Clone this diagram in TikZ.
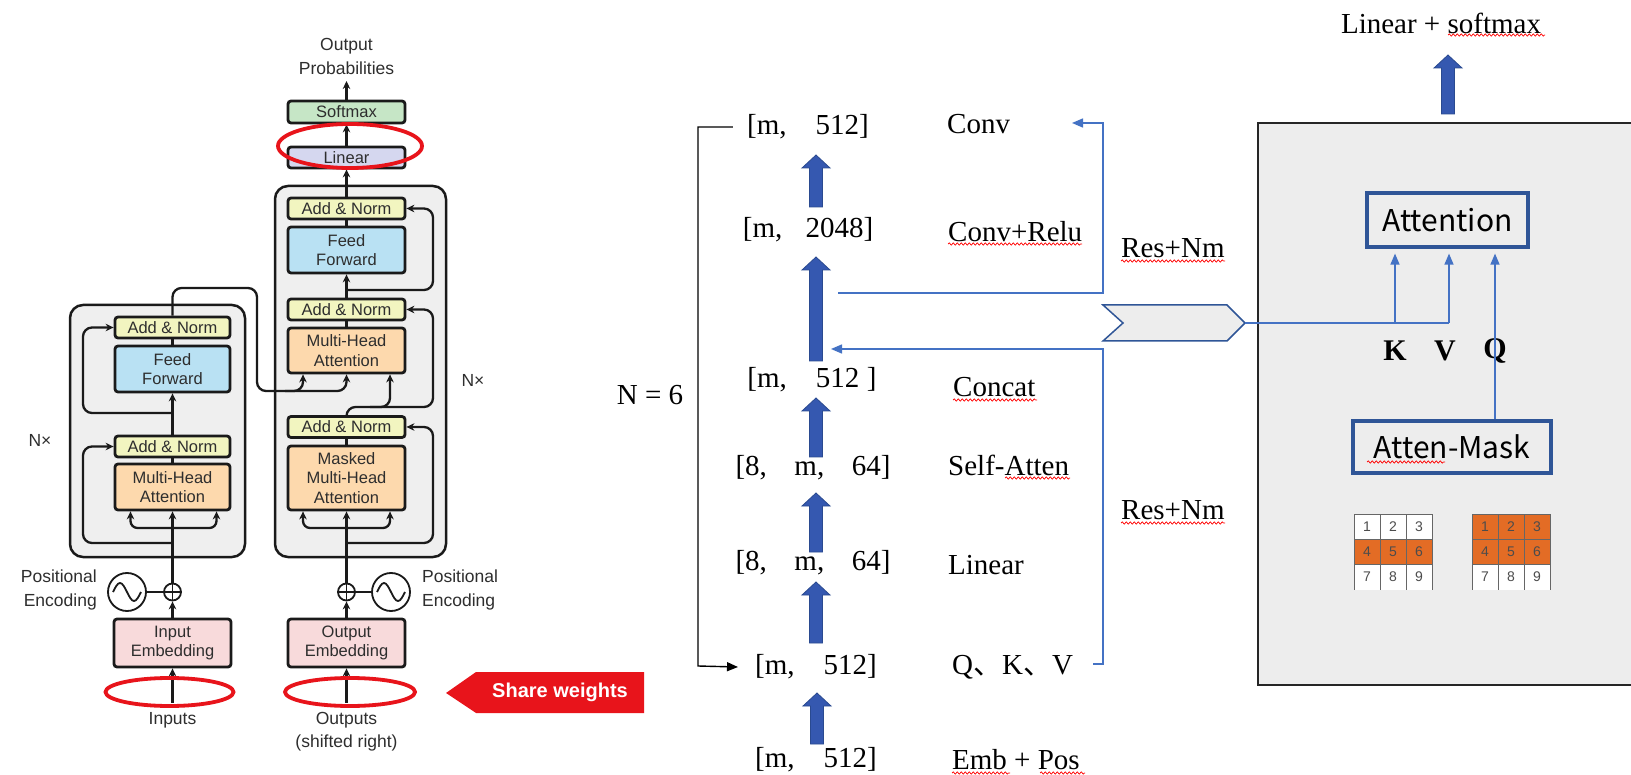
\documentclass[tikz,border=0pt]{standalone}
\usepackage{fontspec}
\setmainfont{Liberation Serif}
\newfontfamily\lsans{Liberation Sans}
\newfontfamily\cjk{Noto Sans CJK SC}
\usetikzlibrary{arrows.meta,decorations.pathmorphing,calc}
\definecolor{blk}{HTML}{1A1A1A}
\definecolor{txtg}{HTML}{2E2E2E}
\definecolor{anf}{HTML}{F2F5C0}
\definecolor{fff}{HTML}{B9E1F3}
\definecolor{mhf}{HTML}{FDD9AD}
\definecolor{smf}{HTML}{C6E6C6}
\definecolor{lnf}{HTML}{D5D7EF}
\definecolor{emf}{HTML}{F8DADB}
\definecolor{outf}{HTML}{EFEFEF}
\definecolor{redc}{HTML}{E8141B}
\definecolor{fatb}{HTML}{3558B0}
\definecolor{fatd}{HTML}{2A4A90}
\definecolor{thinb}{HTML}{4472C4}
\definecolor{boxb}{HTML}{2F5597}
\definecolor{graybg}{HTML}{EDEDED}
\definecolor{orng}{HTML}{E36C25}
\newcommand\fatup[3]{%
  \filldraw[fill=fatb, draw=fatd, line width=0.8pt]
   (#1-6.5,#3) -- (#1-6.5,#2+13) -- (#1-14,#2+13) -- (#1,#2) -- (#1+14,#2+13) -- (#1+6.5,#2+13) -- (#1+6.5,#3) -- cycle;}
\begin{document}
\begin{tikzpicture}[x=1pt,y=-1pt,
  lbox/.style={draw=blk, line width=2.8pt, rounded corners=3pt, minimum width=117pt, inner sep=0pt, align=center, text=txtg, font=\lsans\fontsize{16.5}{19.5}\selectfont},
  outer/.style={draw=blk, line width=2.5pt, rounded corners=13pt, fill=outf, inner sep=0pt},
  ltxt/.style={text=txtg, inner sep=0pt, font=\lsans\fontsize{17.5}{24}\selectfont},
  larr/.style={draw=blk, line width=2.3pt, -{Stealth[length=8pt, width=7.5pt]}},
  lline/.style={draw=blk, line width=2.3pt},
  redell/.style={draw=redc, line width=3.8pt},
  mid/.style={inner sep=0pt, font=\fontsize{29}{34}\selectfont},
  barr/.style={draw=black, line width=1.4pt, -{Triangle[length=11pt, width=9pt]}},
  tb/.style={draw=thinb, line width=1.4pt},
  tba/.style={draw=thinb, line width=1.4pt, -{Triangle[length=11pt, width=9pt]}},
  abox/.style={draw=boxb, line width=3.2pt, inner sep=0pt, font=\cjk\fontsize{30}{34}\selectfont},
  sq/.style={draw=red, line width=0.7pt, decorate, decoration={snake, amplitude=1.1pt, segment length=4pt}},
  kvq/.style={inner sep=0pt, font=\bfseries\fontsize{30}{34}\selectfont},
  cellnum/.style={inner sep=0pt, text=black!70, font=\lsans\fontsize{14}{16}\selectfont}
]
\useasboundingbox (0,0) rectangle (1631,775);
\fill[white] (0,0) rectangle (1631,775);

% ===== left: transformer =====
\node[outer, minimum width=175pt, minimum height=252pt] (encbox) at (157.5,431) {};
\node[outer, minimum width=171pt, minimum height=371pt] (decbox) at (360.5,371.5) {};

% encoder boxes
\node[lbox, fill=anf, minimum width=115pt, minimum height=21pt] (ean2) at (172.5,327.5) {Add \& Norm};
\node[lbox, fill=fff, minimum width=115pt, minimum height=46pt] (eff) at (172.5,369) {Feed\\Forward};
\node[lbox, fill=anf, minimum width=115pt, minimum height=21pt] (ean1) at (172.5,446.5) {Add \& Norm};
\node[lbox, fill=mhf, minimum width=115pt, minimum height=46pt] (emha) at (172.5,487) {Multi-Head\\Attention};
\node[lbox, fill=emf, minimum height=48pt] (eemb) at (172.5,643) {Input\\Embedding};

% decoder boxes
\node[lbox, fill=smf, minimum height=22pt] (soft) at (346.5,112) {Softmax};
\node[lbox, fill=lnf, minimum height=21pt] (lin) at (346.5,157.5) {Linear};
\node[lbox, fill=anf, minimum height=21pt] (dan3) at (346.5,208.5) {Add \& Norm};
\node[lbox, fill=fff, minimum height=46pt] (dff) at (346.5,250) {Feed\\Forward};
\node[lbox, fill=anf, minimum height=21pt] (dan2) at (346.5,309.5) {Add \& Norm};
\node[lbox, fill=mhf, minimum height=45pt] (dmha) at (346.5,350.5) {Multi-Head\\Attention};
\node[lbox, fill=anf, minimum height=21pt] (dan1) at (346.5,427) {Add \& Norm};
\node[lbox, fill=mhf, minimum height=64pt] (dmm) at (346.5,478) {Masked\\Multi-Head\\Attention};
\node[lbox, fill=emf, minimum height=48pt] (demb) at (346.5,643) {Output\\Embedding};

% texts
\node[ltxt, align=center] (outp) at (346.5,56) {Output\\Probabilities};
\coordinate (optip) at (346.5,81);
\node[ltxt] (enx) at (40,440) {N\texttimes};
\node[ltxt] (dnx) at (473,380) {N\texttimes};
\node[ltxt, align=right, anchor=east] (epos) at (97,590) {Positional\\Encoding};
\node[ltxt, align=left, anchor=west] (dpos) at (422,590) {Positional\\Encoding};
\node[ltxt] (inp) at (172.5,720) {Inputs};
\node[ltxt, align=center, font=\lsans\fontsize{17.5}{23}\selectfont] (outs) at (346.5,731.5) {Outputs\\(shifted right)};

% positional encoding circles
\node[circle, draw=blk, line width=1.8pt, minimum size=17pt, inner sep=0pt] (eplus) at (172.5,592) {};
\node[circle, draw=blk, line width=1.8pt, minimum size=38pt, inner sep=0pt] (esine) at (127,592) {};
\node[circle, draw=blk, line width=1.8pt, minimum size=17pt, inner sep=0pt] (dplus) at (346.5,592) {};
\node[circle, draw=blk, line width=1.8pt, minimum size=38pt, inner sep=0pt] (dsine) at (391,592) {};
\foreach \p in {eplus,dplus}{
  \draw[blk, line width=1.4pt] (\p.north) -- (\p.south) (\p.west) -- (\p.east);}
\foreach \s in {esine,dsine}{
  \draw[blk, line width=1.8pt] ($(\s.center)+(-14,0)$) sin ++(7,-9) cos ++(7,9) sin ++(7,9) cos ++(7,-9);}
\draw[lline] (esine.east) -- (eplus.west);
\draw[lline] (dsine.west) -- (dplus.east);

% encoder connectors
\draw[larr] ([yshift=9pt]inp.north) -- (eemb.south);
\draw[larr] (eemb.north) -- (eplus.south);
\draw[larr] (eplus.north) -- (emha.south);
\coordinate (ebr) at (172.5,528);
\draw[larr, rounded corners=7pt] (ebr) -| ([xshift=-42pt]emha.south);
\draw[larr, rounded corners=7pt] (ebr) -| ([xshift=44pt]emha.south);
\draw[larr, rounded corners=9pt] (172.5,543) -| (83,446.5) -- (ean1.west);
\draw[lline] (emha.north) -- (ean1.south);
\draw[larr] (ean1.north) -- (eff.south);
\draw[larr, rounded corners=9pt] (172.5,413) -| (83,327.5) -- (ean2.west);
\draw[lline] (eff.north) -- (ean2.south);
\draw[larr, rounded corners=9pt] (ean2.north) |- (257,288) |- (303,391) -- ([xshift=-43.5pt]dmha.south);
\draw[larr, rounded corners=9pt] (285,391) -| (dmha.south);

% decoder connectors
\draw[larr] ([yshift=9pt]outs.north) -- (demb.south);
\draw[larr] (demb.north) -- (dplus.south);
\draw[larr] (dplus.north) -- (dmm.south);
\coordinate (dbr) at (346.5,528);
\draw[larr, rounded corners=7pt] (dbr) -| ([xshift=-43.5pt]dmm.south);
\draw[larr, rounded corners=7pt] (dbr) -| ([xshift=43.5pt]dmm.south);
\draw[larr, rounded corners=9pt] (346.5,543) -| (433,427) -- (dan1.east);
\draw[lline] (dmm.north) -- (dan1.south);
\draw[larr, rounded corners=9pt] (dan1.north) |- (390,407) -- ([xshift=43.5pt]dmha.south);
\draw[larr, rounded corners=9pt] (370,407) -| (433,309.5) -- (dan2.east);
\draw[lline] (dmha.north) -- (dan2.south);
\draw[larr] (dan2.north) -- (dff.south);
\draw[larr, rounded corners=9pt] (346.5,290) -| (433,208.5) -- (dan3.east);
\draw[lline] (dff.north) -- (dan3.south);
\draw[larr] (dan3.north) -- (lin.south);
\draw[larr] (lin.north) -- (soft.south);
\draw[larr] (soft.north) -- (optip);

% red ellipses
\draw[redell] (350,146) ellipse [x radius=72pt, y radius=22pt];
\draw[redell] (169.5,692) ellipse [x radius=64pt, y radius=14pt];
\draw[redell] (350,692) ellipse [x radius=65pt, y radius=14pt];

% share weights
\fill[redc] (446,693) -- (476,672) -- (644,672) -- (644,713) -- (476,713) -- cycle;
\node[inner sep=0pt, text=white, font=\lsans\bfseries\fontsize{20}{24}\selectfont] (share) at (560,692) {Share weights};

% ===== middle column =====
\node[mid] (m1) at (808,127) {[m,\hspace{1.0em}512]};
\node[mid] (m2) at (808,230) {[m,\hspace{0.8em}2048]};
\node[mid] (m3) at (812,380) {[m,\hspace{1.0em}512\hspace{0.26em}]};
\node[mid] (m4) at (813,468) {[8,\hspace{0.95em}m,\hspace{0.95em}64]};
\node[mid] (m5) at (813,563) {[8,\hspace{0.95em}m,\hspace{0.95em}64]};
\node[mid] (m6) at (816,667) {[m,\hspace{1.0em}512]};
\node[mid] (m7) at (816,760) {[m,\hspace{1.0em}512]};

\node[mid, anchor=west] (l1) at (947,124) {Conv};
\node[mid, anchor=west] (l2) at (948,232) {Conv+Relu};
\node[mid, anchor=west] (l3) at (953,387) {Concat};
\node[mid, anchor=west] (l4) at (948,465) {Self-Atten};
\node[mid, anchor=west] (l5) at (948,565) {Linear};
\node[mid, anchor=west] (l6) at (952,667) {Q{\cjk 、}K{\cjk 、}V};
\node[mid, anchor=west] (l7) at (952,760) {Emb + Pos};
\node[mid] (nsix) at (650,395) {N = 6};
\node[mid, anchor=west] (res1) at (1121,248) {Res+Nm};
\node[mid, anchor=west] (res2) at (1121,510) {Res+Nm};

% bracket
\coordinate (bt) at (698,127);
\coordinate (bb) at (698,666);
\draw[barr] ([xshift=-14pt]m1.west) -- (bt) -- (bb) -- ([xshift=-17pt]m6.west);

% fat arrows
\fatup{816}{155}{207}
\fatup{816}{257}{361}
\fatup{816}{398}{457}
\fatup{816}{493}{552}
\fatup{816}{582}{643}
\fatup{817}{693}{744}

% thin blue connectors
\coordinate (up0) at (838,293);
\coordinate (upc) at (1103,293);
\coordinate (upt) at (1103,123);
\draw[tba] (up0) -- (upc) -- (upt) -- (1072,123);
\coordinate (lo0) at (1093,664);
\coordinate (loc) at (1103,664);
\coordinate (lot) at (1103,349);
\draw[tba] (lo0) -- (loc) -- (lot) -- (831,349);

% ===== right box =====
\begin{scope}
\clip (0,0) rectangle (1631,775);
\draw[fill=graybg, line width=1.8pt, draw=black!85] (1258,123) rectangle (1660,685);
\end{scope}

% chevron
\filldraw[fill=graybg, draw=boxb, line width=1.5pt] (1103,305) -- (1227,305) -- (1245,323) -- (1227,341) -- (1103,341) -- (1123,323) -- cycle;
\coordinate (chev) at (1245,323);

\node[mid] (lsm) at (1441,23) {Linear + softmax};
\fatup{1448}{55}{114}

\node[abox, minimum width=161pt, minimum height=54pt] (att) at (1447.5,220) {Attention};
\node[abox, minimum width=198pt, minimum height=52pt] (mask) at (1452,447) {Atten-Mask};

\coordinate (kv) at (1449,323);
\draw[tb] (chev) -- (kv);
\draw[tba] (1395,323) -- ([xshift=-52.5pt,yshift=-5pt]att.south);
\draw[tba] (kv) -- ([xshift=1.5pt,yshift=-5pt]att.south);

\node[kvq] (kk) at (1395,351) {K};
\node[kvq] (vv) at (1445,351) {V};
\node[kvq] (qq) at (1495,351) {Q};
\draw[tba] ([xshift=43pt]mask.north) -- ([xshift=47.5pt,yshift=-5pt]att.south);

% grids
\foreach \gx/\ra/\rb/\rc in {1354/white/orng/white, 1472/orng/orng/white}{
  \fill[\ra] (\gx,514) rectangle (\gx+78,539);
  \fill[\rb] (\gx,539) rectangle (\gx+78,564);
  \fill[\rc] (\gx,564) rectangle (\gx+78,590);
  \foreach \c in {0,1,2,3}{ \draw[black!60, line width=0.9pt] (\gx+26*\c,514) -- (\gx+26*\c,590); }
  \foreach \r in {0,1,2}{ \draw[black!60, line width=0.9pt] (\gx,514+25*\r) -- (\gx+78,514+25*\r); }
  \foreach \r in {0,1,2}{
    \foreach \c in {0,1,2}{
      \pgfmathtruncatemacro\n{3*\r+\c+1}
      \node[cellnum] (g\gx-\n) at (\gx+26*\c+13,514+25*\r+12.5) {\n};
    }}
}

% spell-check squiggles
\draw[sq] (948,244) -- (1082,244);
\draw[sq] (953,400) -- (1037,400);
\draw[sq] (1005,478) -- (1070,478);
\draw[sq] (952,773) -- (1010,773);
\draw[sq] (1040,773) -- (1085,773);
\draw[sq] (1121,261) -- (1225,261);
\draw[sq] (1121,523) -- (1225,523);
\draw[sq] (1448,35) -- (1545,35);
\draw[sq] (1367,462) -- (1445,462);
\end{tikzpicture}
\end{document}
